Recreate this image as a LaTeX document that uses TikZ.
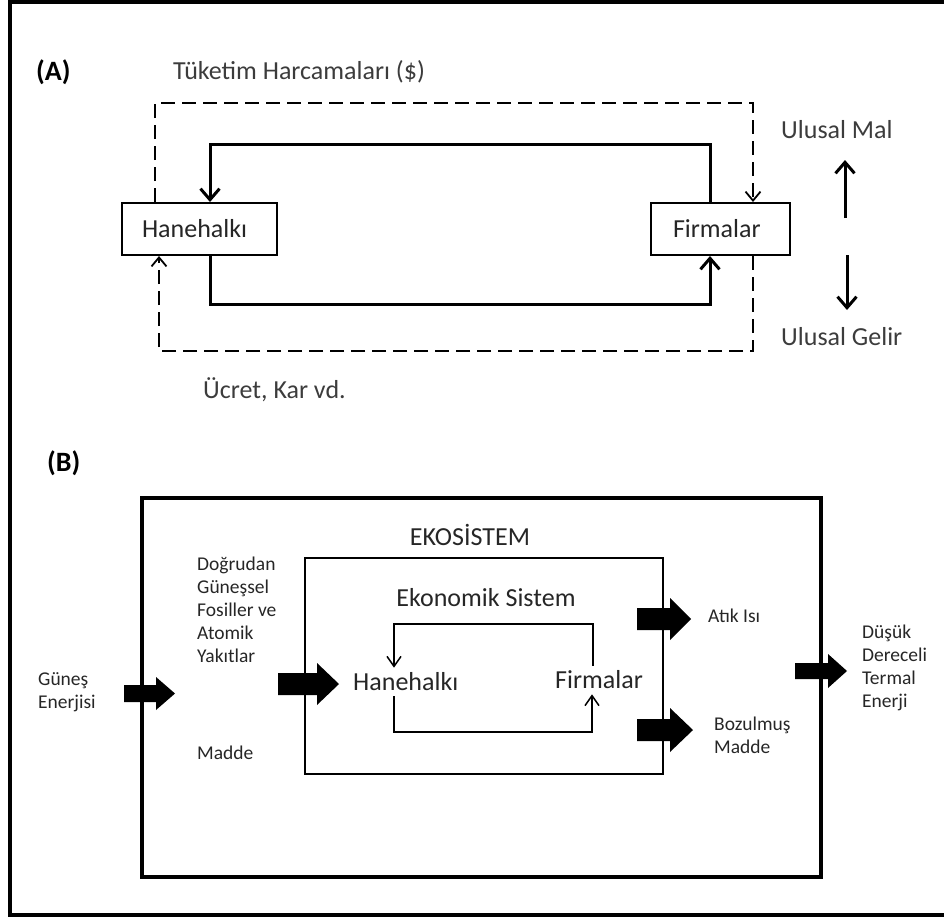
\documentclass[tikz,border=0pt]{standalone}
\usepackage{fontspec}
\setmainfont{Carlito}
\usetikzlibrary{arrows.meta, calc, positioning}
\definecolor{txtgray}{HTML}{3C3C3C}
\tikzset{
  px/.style={x=1pt, y=-1pt, line join=miter},
  bigtxt/.style={font=\fontsize{26}{31}\selectfont, inner sep=0pt},
  boldtxt/.style={font=\fontsize{28}{32}\selectfont\bfseries, inner sep=0pt, anchor=west},
  smalltxt/.style={font=\fontsize{19.5}{23}\selectfont, align=left, anchor=west,
    inner sep=0pt, text=black!85},
  sector/.style={draw, line width=2pt, minimum height=52pt, inner ysep=0pt,
    align=left, font=\fontsize{26}{31}\selectfont, text=black!85},
  money/.style={line width=3pt, -{Straight Barb[length=11pt, width=19pt]}},
  cash/.style={line width=1.8pt, dash pattern=on 14pt off 7pt,
    -{Straight Barb[length=9pt, width=15pt]}},
  thin loop/.style={line width=1.5pt, -{Straight Barb[length=10pt, width=14pt]}},
}

\begin{document}
\begin{tikzpicture}[px]
  \useasboundingbox (0,0) rectangle (944,918);
  % outer frame (right side runs off the page)
  \draw[line width=4pt] (950,2) -- (10,2) -- (10,915) -- (950,915);

  % ---- (A) circular flow ----
  \node[boldtxt] (labA) at (36,72) {(A)};
  \node[bigtxt, text=txtgray, anchor=west] (spend) at (173,72) {Tüketim Harcamaları (\$)};
  \node[sector, inner xsep=20pt, text width=115pt] (hh) at (199.5,229) {Hanehalkı};
  \node[sector, inner xsep=22pt, text width=95pt] (fir) at (720.5,229) {Firmalar};
  % goods loop (thick)
  \coordinate (t1) at (710,144); \coordinate (t2) at (210,144);
  \coordinate (b1) at (210,304); \coordinate (b2) at (710,304);
  \draw[money] (fir.north -| t1) -- (t1) -- (t2) -- (hh.north -| t2);
  \draw[money] (hh.south -| b1) -- (b1) -- (b2) -- (fir.south -| b2);
  % money loop (dashed)
  \coordinate (d1) at (155,103); \coordinate (d2) at (753,103);
  \coordinate (e1) at (159,351); \coordinate (e2) at (753,351);
  \draw[cash] (hh.north -| d1) -- (d1) -- (d2) -- (fir.north -| d2);
  \draw[cash] (fir.south -| e2) -- (e2) -- (e1) -- (hh.south -| e1);
  \node[bigtxt, text=txtgray, anchor=west] (wage) at (203,390) {Ücret, Kar vd.};
  % national product / income
  \node[bigtxt, text=txtgray, anchor=west] (mal) at (781,130) {Ulusal Mal};
  \node[bigtxt, text=txtgray, anchor=west] (gelir) at (781,337) {Ulusal Gelir};
  \coordinate (m0) at (845,218); \coordinate (m1) at (845,160);
  \coordinate (g0) at (847,255); \coordinate (g1) at (847,310);
  \draw[money] (m0) -- (m1);
  \draw[money] (g0) -- (g1);

  % ---- (B) economy inside the ecosystem ----
  \node[boldtxt] (labB) at (47,463) {(B)};
  \node[draw, line width=3.5pt, minimum width=679pt, minimum height=379pt,
    inner sep=0pt] (eko) at (481.5,687.5) {};
  \node[bigtxt, text=black!85] (ekoname) at (470,535) {EKOSİSTEM};
  \node[draw, line width=2pt, minimum width=358pt, minimum height=216pt,
    inner sep=0pt] (econ) at (484,666) {};
  \node[bigtxt, text=black!85] (econname) at (486,598) {Ekonomik Sistem};
  \node[bigtxt, text=black!85, anchor=west, inner ysep=5pt] (hh2) at (353,682) {Hanehalkı};
  \node[bigtxt, text=black!85, anchor=west, inner ysep=5pt] (fir2) at (555,680) {Firmalar};
  \coordinate (p1) at (593,624); \coordinate (p2) at (394,624);
  \coordinate (q1) at (394,732); \coordinate (q2) at (592,732);
  \draw[thin loop] (fir2.north -| p1) -- (p1) -- (p2) -- (hh2.north -| p2);
  \draw[thin loop] (hh2.south -| q1) -- (q1) -- (q2) -- (fir2.south -| q2);
  % labels of the flows
  \node[smalltxt] (sun) at (38,692.5) {Güneş\\Enerjisi};
  \node[smalltxt] (fuel) at (197,610) {Doğrudan\\Güneşsel\\Fosiller ve\\Atomik\\Yakıtlar};
  \node[smalltxt] (matter) at (197,753) {Madde};
  \node[smalltxt] (heat) at (708,616) {Atık Isı};
  \node[smalltxt] (waste) at (714,735.5) {Bozulmuş\\Madde};
  \node[smalltxt] (low) at (862,667.5) {Düşük\\Dereceli\\Termal\\Enerji};
  % block arrows: tail x / head start x / tip x / centre y / shaft half / head half
  \foreach \xa/\xh/\xb/\yy/\s/\h in {124/156/175/693.5/8.5/16.5, 278/317/339/684/11/21,
      637/670/691/619/11/21, 637/670/693/730/11/22, 795/828/847/671/8/17}{
    \fill (\xa,{\yy-\s}) -- (\xh,{\yy-\s}) -- (\xh,{\yy-\h}) -- (\xb,\yy)
      -- (\xh,{\yy+\h}) -- (\xh,{\yy+\s}) -- (\xa,{\yy+\s}) -- cycle;
  }
\end{tikzpicture}
\end{document}
